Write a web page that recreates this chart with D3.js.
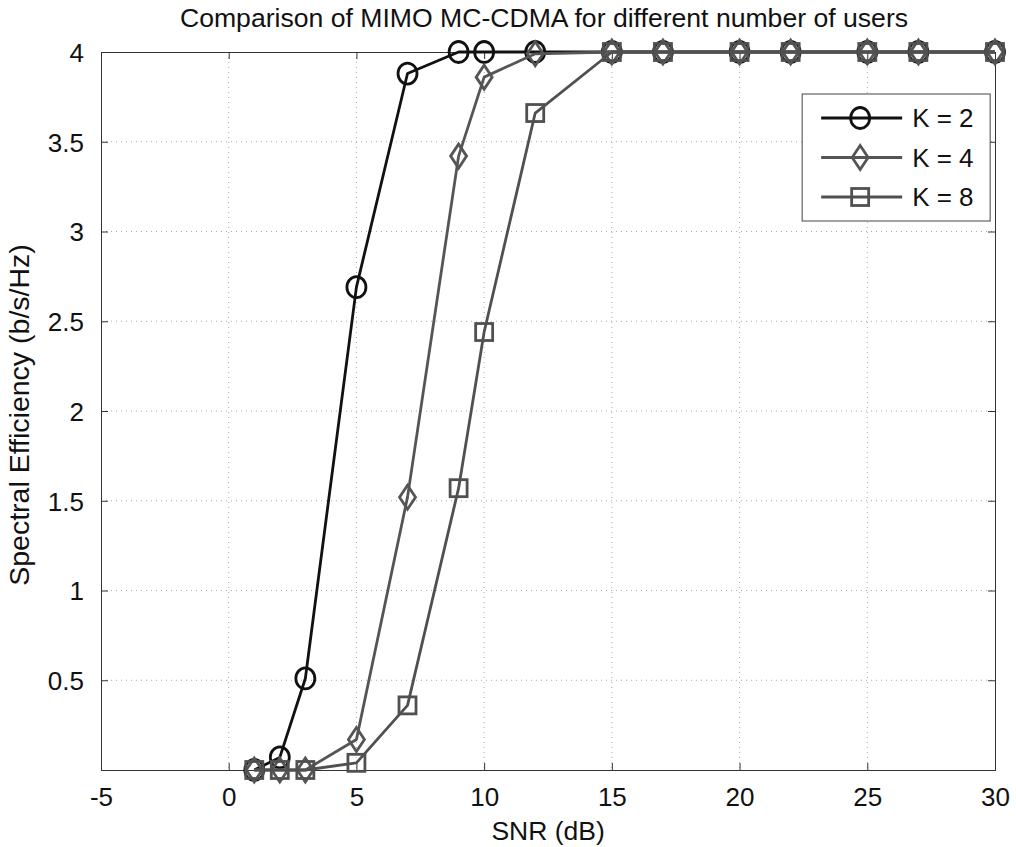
<!DOCTYPE html>
<html>
<head>
<meta charset="utf-8">
<script src="https://d3js.org/d3.v7.min.js"></script>
<style>
  body { margin: 0; background: #fff; }
  text { font-family: "Liberation Sans", Arial, sans-serif; fill: #111; }
</style>
</head>
<body>
<div id="chart"></div>
<script>
// data
var snr = [1, 2, 3, 5, 7, 9, 10, 12, 15, 17, 20, 22, 25, 27, 30];
var k2 = [0, 0.07, 0.51, 2.69, 3.88, 4, 4, 4, 4, 4, 4, 4, 4, 4, 4];
var k4 = [0, 0, 0, 0.17, 1.52, 3.42, 3.86, 3.99, 4, 4, 4, 4, 4, 4, 4];
var k8 = [0, 0, 0, 0.04, 0.36, 1.57, 2.44, 3.66, 4, 4, 4, 4, 4, 4, 4];
var seriesNames = ["K = 2", "K = 4", "K = 8"];
var xTicks = [-5, 0, 5, 10, 15, 20, 25, 30];
var yTicks = [0.5, 1, 1.5, 2, 2.5, 3, 3.5, 4];

var margin = {top: 52, right: 21, bottom: 77, left: 101},
    width = 1016 - margin.left - margin.right,
    height = 847 - margin.top - margin.bottom;

var svg = d3.select("#chart")
  .append("svg")
    .attr("width", 1016)
    .attr("height", 847)
  .append("g")
    .attr("transform", "translate(" + margin.left + "," + margin.top + ")");

var x = d3.scaleLinear().domain([-5, 30]).range([0, width]);
var y = d3.scaleLinear().domain([0, 4]).range([height, 0]);

// grid
svg.append("g")
  .selectAll("line")
  .data(xTicks.slice(1, -1))
  .enter().append("line")
    .attr("x1", function(d) { return x(d); })
    .attr("x2", function(d) { return x(d); })
    .attr("y1", 0).attr("y2", height)
    .attr("stroke", "#aaa").attr("stroke-width", 1)
    .attr("stroke-dasharray", "1,4");
svg.append("g")
  .selectAll("line")
  .data(yTicks.slice(0, -1))
  .enter().append("line")
    .attr("y1", function(d) { return y(d); })
    .attr("y2", function(d) { return y(d); })
    .attr("x1", 0).attr("x2", width)
    .attr("stroke", "#aaa").attr("stroke-width", 1)
    .attr("stroke-dasharray", "1,4");

// axes (ticks pointing inward, matlab style)
var fmt = function(d) { return String(d); };
var xAxisG = svg.append("g")
  .attr("transform", "translate(0," + height + ")")
  .call(d3.axisBottom(x).tickValues(xTicks).tickSize(-7).tickPadding(18).tickFormat(fmt));
var yAxisG = svg.append("g")
  .call(d3.axisLeft(y).tickValues(yTicks).tickSize(-7).tickPadding(17).tickFormat(fmt));
svg.append("g")
  .call(d3.axisTop(x).tickValues(xTicks).tickSize(-7).tickFormat(""));
svg.append("g")
  .attr("transform", "translate(" + width + ",0)")
  .call(d3.axisRight(y).tickValues(yTicks).tickSize(-7).tickFormat(""));

svg.selectAll(".domain").attr("stroke", "#333");
svg.selectAll(".tick line").attr("stroke", "#333");
xAxisG.selectAll("text").attr("font-size", "26px").attr("fill", "#111");
yAxisG.selectAll("text").attr("font-size", "26px").attr("fill", "#111").attr("dy", "0.36em");

// labels
svg.append("text")
  .attr("x", width / 2 - 4)
  .attr("y", -25)
  .attr("text-anchor", "middle")
  .attr("font-size", "26.6px")
  .text("Comparison of MIMO MC-CDMA for different number of users");

svg.append("text")
  .attr("x", x(10) + 64)
  .attr("y", height + 70)
  .attr("text-anchor", "middle")
  .attr("font-size", "26.5px")
  .text("SNR (dB)");

svg.append("text")
  .attr("transform", "rotate(-90)")
  .attr("x", -(y(2) + 4))
  .attr("y", -72)
  .attr("text-anchor", "middle")
  .attr("font-size", "28.5px")
  .text("Spectral Efficiency (b/s/Hz)");

// series
var series = [
  {name: seriesNames[0], values: k2, color: "#111", marker: "circle"},
  {name: seriesNames[1], values: k4, color: "#555", marker: "diamond"},
  {name: seriesNames[2], values: k8, color: "#505050", marker: "square"}
];

var line = d3.line()
  .x(function(d, i) { return x(snr[i]); })
  .y(function(d) { return y(d); });

function drawMarker(g, type, color) {
  if (type == "circle") {
    g.append("ellipse").attr("rx", 9.5).attr("ry", 10.5);
  } else if (type == "diamond") {
    g.append("path").attr("d", "M0,-12L8,0L0,12L-8,0Z");
  } else {
    g.append("rect").attr("x", -8.5).attr("y", -8.5).attr("width", 17).attr("height", 17);
  }
  g.selectAll("*")
    .attr("fill", "none")
    .attr("stroke", color)
    .attr("stroke-width", 2.8);
}

series.forEach(function(s) {
  svg.append("path")
    .datum(s.values)
    .attr("fill", "none")
    .attr("stroke", s.color)
    .attr("stroke-width", 2.8)
    .attr("stroke-linejoin", "round")
    .attr("d", line);

  svg.append("g")
    .selectAll("g")
    .data(s.values)
    .enter().append("g")
      .attr("transform", function(d, i) { return "translate(" + x(snr[i]) + "," + y(d) + ")"; })
      .each(function() { drawMarker(d3.select(this), s.marker, s.color); });
});

// legend
var legend = svg.append("g")
  .attr("transform", "translate(" + (x(22.45)) + "," + (y(3.766)) + ")");
legend.append("rect")
  .attr("width", 188).attr("height", 127)
  .attr("fill", "#fff").attr("stroke", "#444").attr("stroke-width", 1);

series.forEach(function(s, i) {
  var row = legend.append("g").attr("transform", "translate(0," + (24 + i * 39.5) + ")");
  row.append("line")
    .attr("x1", 19).attr("x2", 100)
    .attr("stroke", s.color).attr("stroke-width", 2.8);
  var m = row.append("g").attr("transform", "translate(58,0)");
  drawMarker(m, s.marker, s.color);
  row.append("text")
    .attr("x", 110).attr("dy", "0.36em")
    .attr("font-size", "26px")
    .text(s.name);
});
</script>
</body>
</html>
